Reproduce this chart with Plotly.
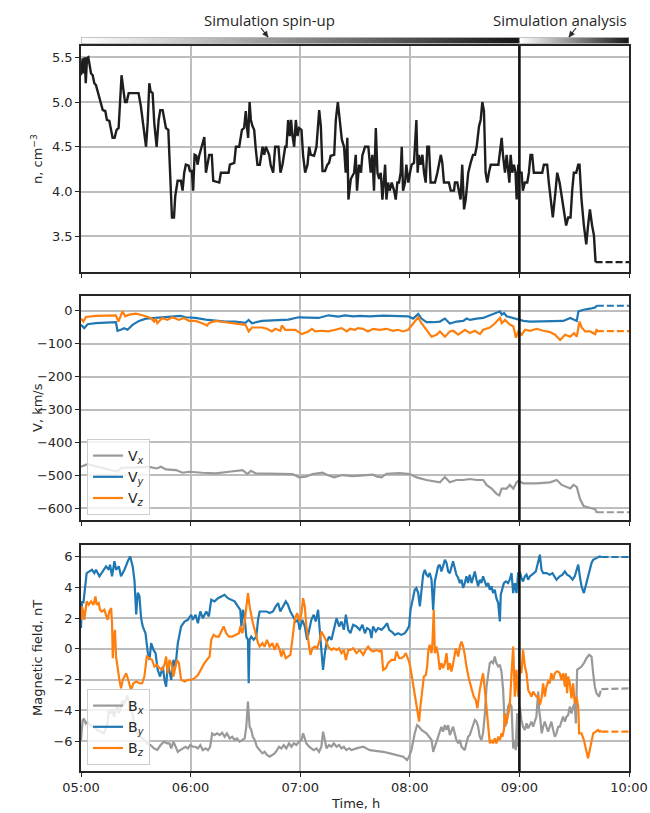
import numpy as np
import plotly.graph_objects as go

# ---------------------------------------------------------------
# Time is expressed in minutes after 05:00
# ---------------------------------------------------------------
tick_minutes = [0, 60, 120, 180, 240, 300]
tick_labels = ["05:00", "06:00", "07:00", "08:00", "09:00", "10:00"]
analysis_start = 240      # 09:00, start of the analysed interval
end_minute = 300          # 10:00

# ---------------- solar wind density, cm^-3 ----------------
n_t = [0.0, 0.9, 1.5, 2.0, 2.6, 3.3, 4.0, 4.6, 5.5, 6.4, 7.3, 8.2, 9.1, 10.4, 11.9, 13.3, 14.2, 15.5,
       16.4, 17.3, 18.4, 19.5, 20.6, 21.3, 22.2, 23.2, 24.1, 25.0, 26.1, 27.3, 31.5, 32.8, 34.1, 35.6,
       36.5, 37.4, 38.1, 39.2, 40.1, 41.4, 42.5, 43.4, 44.7, 45.6, 46.5, 47.8, 48.7, 49.8, 50.9, 51.6,
       52.9, 54.7, 55.6, 56.5, 57.4, 58.9, 59.6, 60.7, 61.4, 62.2, 63.1, 63.8, 64.7, 66.2, 67.5, 68.4,
       69.3, 70.2, 71.6, 72.4, 75.7, 76.6, 80.8, 81.5, 83.9, 84.8, 86.6, 88.1, 89.3, 90.2, 90.8, 91.5,
       92.3, 93.0, 93.9, 94.8, 95.7, 96.6, 97.9, 99.4, 100.3, 101.2, 103.0, 103.9, 105.2, 106.3, 108.1,
       109.2, 110.3, 111.8, 112.5, 113.4, 114.3, 115.0, 115.8, 116.7, 117.6, 118.5, 119.4, 120.7, 121.6,
       122.7, 124.0, 124.9, 125.8, 127.6, 128.9, 130.4, 131.3, 132.2, 133.6, 134.9, 135.8, 136.7, 138.6,
       139.5, 140.6, 141.7, 142.8, 144.0, 144.9, 145.8, 146.4, 147.7, 149.5, 150.4, 151.1, 152.2, 153.3,
       154.0, 155.5, 157.3, 158.6, 159.5, 160.4, 161.4, 162.3, 163.2, 164.1, 165.0, 165.9, 166.5, 167.2,
       168.1, 169.0, 170.1, 171.4, 172.3, 173.2, 174.1, 175.0, 175.6, 176.3, 177.4, 178.1, 179.2, 180.1,
       181.0, 182.3, 183.6, 184.3, 185.0, 185.9, 186.9, 187.8, 188.7, 189.6, 190.5, 191.4, 193.8, 195.1,
       197.0, 197.8, 198.7, 201.4, 202.4, 204.2, 204.7, 206.0, 206.9, 207.8, 208.7, 209.7, 210.6, 212.0,
       213.3, 214.6, 215.7, 216.6, 217.9, 218.8, 219.7, 220.6, 221.5, 222.4, 223.3, 224.3, 228.5, 229.2,
       230.3, 231.0, 232.1, 233.0, 233.8, 234.5, 235.2, 236.1, 237.0, 237.9, 238.5, 239.4, 240.1, 241.2,
       241.9, 243.0, 244.3, 245.2, 246.1, 247.0, 247.9, 252.5, 253.4, 255.2, 256.1, 257.0, 258.3, 259.8,
       260.7, 262.0, 263.4, 265.6, 266.7, 268.0, 268.9, 269.8, 271.1, 272.2, 272.9, 274.0, 275.3, 276.6,
       277.6, 278.6, 279.8, 280.8, 281.7]
n_val = [5.30, 5.49, 5.32, 5.50, 5.21, 5.49, 5.50, 5.41, 5.32, 5.30, 5.21, 5.19, 5.12, 5.00, 4.91, 4.90, 4.80, 4.79,
         4.69, 4.60, 4.60, 4.69, 4.71, 5.00, 5.30, 5.14, 5.00, 5.00, 5.10, 5.10, 5.10, 4.95, 4.73, 4.50,
         4.77, 5.21, 5.12, 5.10, 4.77, 4.50, 4.80, 4.91, 4.91, 4.82, 4.71, 4.69, 4.21, 3.71, 3.71, 3.95,
         4.12, 4.12, 4.01, 4.21, 4.30, 4.29, 4.23, 4.23, 4.01, 4.41, 4.40, 4.30, 4.40, 4.50, 4.61, 4.21,
         4.30, 4.41, 4.41, 4.12, 4.10, 4.21, 4.21, 4.30, 4.32, 4.50, 4.50, 4.69, 4.71, 4.90, 4.73, 4.60,
         5.00, 4.80, 4.73, 4.69, 4.47, 4.30, 4.30, 4.50, 4.41, 4.50, 4.41, 4.29, 4.21, 4.50, 4.50,
         4.21, 4.30, 4.50, 4.50, 4.80, 4.62, 4.80, 4.62, 4.50, 4.80, 4.62, 4.71, 4.69, 4.40,
         4.21, 4.30, 4.50, 4.41, 4.40, 4.50, 4.91, 4.73, 4.23, 4.23, 4.30, 4.32, 4.40, 4.41,
         4.80, 5.00, 4.77, 4.58, 4.50, 4.21, 4.60, 3.91, 4.14, 4.21, 4.41, 4.01, 4.30, 4.21,
         4.40, 4.50, 4.50, 4.21, 4.41, 4.01, 4.71, 4.21, 4.14, 4.21, 3.91, 4.14, 4.30, 3.91,
         4.10, 4.01, 4.10, 4.01, 3.91, 4.10, 4.10, 4.21, 4.50, 4.01, 4.10, 4.30, 4.10, 4.21,
         4.30, 4.32, 4.80, 4.21, 4.41, 4.30, 4.41, 4.21, 4.10, 4.50, 4.50, 4.10, 4.10, 4.21,
         4.41, 4.32, 4.10, 4.10, 4.01, 4.01, 4.10, 4.10, 4.01, 3.91, 4.30, 3.80, 3.91, 4.21,
         4.32, 4.41, 4.41, 4.50, 4.73, 4.80, 5.00, 4.90, 4.21, 4.10, 4.21, 4.30, 4.30, 4.41,
         4.60, 4.41, 4.21, 4.41, 4.21, 4.10, 4.41, 4.21, 4.30, 4.21, 3.91, 4.30, 4.21, 4.21,
         4.01, 4.10, 4.10, 4.21, 4.41, 4.41, 4.21, 4.21, 4.30, 4.30, 4.10, 3.91, 3.71, 4.01,
         4.21, 4.10, 3.91, 3.62, 3.71, 3.71, 4.01, 4.21, 4.21, 4.30, 4.30, 3.91, 3.62, 3.41,
         3.62, 3.80, 3.62, 3.51, 3.21]
n_tail_t = [281.7, 300.0]
n_tail_val = [3.21, 3.21]

# ---------------- solar wind velocity, km/s ----------------
vx_t = [0.0, 3.6, 20.1, 21.9, 30.1, 37.4, 41.4, 43.8, 46.5, 52.0, 55.6, 59.3, 66.5, 73.8, 81.1, 88.4,
        91.2, 93.0, 95.7, 103.0, 110.3, 115.8, 119.4, 123.1, 126.7, 132.2, 134.9, 138.6, 143.1, 148.6,
        154.4, 159.9, 161.7, 164.5, 167.2, 174.5, 180.0, 183.7, 189.1, 196.5, 199.2, 201.9, 205.6, 209.3,
        212.9, 216.6, 220.2, 222.0, 224.8, 227.5, 229.0, 230.3, 233.0, 234.8, 236.7, 238.5, 239.4, 242.2,
        249.5, 256.8, 260.4, 263.2, 267.8, 269.6, 271.4, 273.2, 275.1, 278.7, 281.5, 282.4]
vx_val = [-474, -466, -489, -477, -476, -474, -479, -474, -482, -484, -492, -489, -492, -494, -489, -484,
          -496, -486, -494, -494, -496, -496, -506, -504, -496, -492, -499, -506, -499, -502,
          -500, -498, -503, -506, -495, -493, -496, -506, -514, -521, -505, -521, -514, -514,
          -511, -514, -514, -529, -540, -556, -561, -540, -540, -529, -540, -521, -517, -524,
          -524, -521, -514, -529, -540, -529, -535, -572, -593, -598, -603, -614]
vx_tail_t = [282.4, 300.0]
vx_tail_val = [-612, -612]

vy_t = [0.0, 1.8, 3.6, 8.2, 19.1, 20.0, 21.8, 23.6, 25.5, 28.2, 31.8, 35.5, 40.9, 46.4, 50.0, 54.5,
        57.3, 62.7, 68.2, 73.6, 79.1, 84.5, 90.0, 91.8, 93.6, 99.1, 106.4, 113.6, 119.1, 124.5, 130.0,
        135.5, 140.9, 144.5, 149.1, 152.6, 158.1, 165.4, 172.7, 179.1, 181.8, 184.6, 186.4, 189.1,
        192.8, 196.5, 199.2, 201.9, 205.6, 209.3, 211.1, 212.9, 216.6, 220.2, 223.9, 227.5, 229.4,
        230.3, 231.6, 233.0, 234.8, 237.6, 239.4, 242.2, 245.8, 249.5, 256.8, 264.1, 267.8, 269.9,
        271.4, 272.3, 275.1, 278.7, 281.5, 282.4]
vy_val = [-43, -53, -41, -38, -35, -61, -58, -53, -58, -43, -31, -24, -22, -20, -18, -16,
          -20, -22, -27, -31, -33, -33, -37, -28, -38, -31, -29, -27, -20, -20, -22,
          -14, -18, -14, -17, -16, -17, -15, -17, -17, -24, -10, -24, -35,
          -35, -33, -24, -39, -33, -31, -24, -28, -24, -22, -14, -7, -2,
          -12, -7, -17, -20, -24, -28, -31, -33, -33, -31, -31, -22, -28,
          -31, -2, 3, 6, 10, 16]
vy_tail_t = [282.4, 300.0]
vy_tail_val = [15, 15]

vz_t = [0.0, 1.3, 2.7, 8.2, 19.1, 20.5, 22.7, 24.2, 26.4, 30.0, 33.6, 36.4, 38.2, 40.0, 40.9, 41.8,
        44.5, 47.3, 50.0, 53.6, 56.4, 59.1, 62.7, 66.4, 69.1, 70.0, 73.6, 79.1, 84.5, 88.2, 90.0, 91.8,
        93.6, 99.1, 101.8, 104.5, 106.4, 109.1, 110.0, 111.8, 117.3, 120.9, 124.5, 126.4, 128.2, 131.8,
        135.5, 139.1, 142.7, 145.5, 147.3, 150.0, 151.7, 154.4, 157.1, 159.9, 163.5, 167.2, 170.9,
        173.6, 176.3, 179.1, 180.9, 184.6, 186.4, 189.1, 191.9, 194.6, 196.5, 199.2, 201.9, 203.8,
        206.5, 210.2, 212.9, 215.6, 218.4, 220.2, 223.9, 226.6, 229.4, 230.3, 232.1, 234.5, 236.7,
        238.1, 239.4, 241.2, 243.1, 245.8, 249.5, 253.1, 256.8, 259.5, 262.3, 265.0, 267.8, 269.9,
        271.4, 272.9, 274.1, 276.0, 278.7, 281.5, 282.4]
vz_val = [-24, -33, -19, -16, -14, -33, -2, -17, -12, -9, -14, -20, -22, -33, -24, -38,
          -22, -28, -20, -28, -22, -31, -31, -38, -45, -38, -31, -35, -38, -41, -43, -63,
          -51, -51, -55, -63, -55, -61, -45, -58, -58, -71, -63, -55, -63, -61,
          -63, -58, -53, -63, -55, -58, -53, -55, -63, -55, -58, -55, -61,
          -58, -63, -58, -45, -20, -38, -58, -79, -73, -63, -79, -63, -61,
          -73, -58, -68, -61, -71, -58, -51, -38, -22, -38, -28, -41, -48,
          -82, -63, -73, -58, -61, -55, -61, -65, -73, -89, -73, -79, -68,
          -79, -33, -51, -63, -63, -71, -55]
vz_tail_t = [282.4, 300.0]
vz_tail_val = [-62, -62]

# ---------------- interplanetary magnetic field, nT ----------------
bx_t = [0.0, 0.9, 1.6, 2.6, 3.5, 5.3, 7.1, 8.9, 10.8, 12.6, 14.4, 15.3, 16.2, 17.1, 18.1, 19.0, 19.9,
        20.8, 21.7, 22.6, 23.5, 24.4, 25.3, 26.3, 27.2, 28.1, 29.0, 29.9, 30.8, 32.6, 34.5, 36.3, 38.1,
        39.9, 41.8, 43.6, 45.4, 47.2, 48.4, 49.4, 50.6, 51.7, 53.0, 54.3, 55.8, 57.2, 58.5, 59.8, 61.2,
        62.7, 64.0, 65.3, 66.7, 68.2, 69.5, 70.7, 71.8, 73.1, 74.4, 75.9, 77.3, 78.6, 79.9, 81.4, 82.8,
        84.1, 85.4, 86.8, 88.3, 89.6, 90.5, 91.4, 92.3, 93.2, 94.1, 95.1, 96.3, 97.8, 99.3, 100.5,
        101.8, 103.3, 104.8, 106.0, 107.3, 108.4, 109.7, 111.0, 112.4, 113.9, 115.2, 116.5, 117.9,
        119.4, 120.7, 121.6, 122.5, 123.4, 124.9, 126.1, 127.4, 128.9, 130.3, 131.6, 132.5, 133.5,
        134.4, 135.8, 137.1, 138.4, 139.9, 141.3, 142.6, 143.9, 145.3, 146.8, 148.1, 150.8, 154.5,
        158.1, 161.8, 165.4, 169.1, 172.7, 176.4, 178.5, 179.6, 180.9, 181.8, 182.7, 184.0, 185.1,
        186.4, 187.7, 189.1, 190.6, 191.9, 192.8, 193.7, 194.6, 195.5, 196.4, 197.3, 198.2, 199.2,
        200.1, 201.0, 201.9, 202.8, 203.7, 204.6, 205.5, 206.5, 207.4, 208.3, 209.2, 210.1, 211.0,
        211.9, 212.8, 213.8, 214.7, 215.6, 216.5, 217.4, 218.3, 219.2, 220.1, 221.1, 222.0, 222.9,
        223.8, 224.7, 225.6, 226.5, 227.4, 228.4, 229.3, 230.2, 231.1, 232.0, 232.9, 233.8, 234.7,
        235.7, 236.6, 237.5, 238.0, 238.8, 239.3, 240.2, 241.1, 242.0, 243.0, 243.9, 244.8, 245.7,
        246.6, 247.5, 248.4, 249.3, 250.3, 250.8, 251.5, 252.2, 253.0, 253.9, 254.8, 255.7, 256.6,
        257.5, 258.5, 259.4, 260.3, 261.2, 262.1, 263.0, 263.9, 264.9, 265.8, 266.7, 267.6, 268.5,
        269.4, 270.3, 270.9, 271.6, 272.7, 274.0, 275.3, 276.7, 278.2, 279.5, 280.4, 281.3, 282.2,
        283.6, 284.4, 284.9]
bx_val = [-5.94, -4.65, -4.54, -4.86, -4.75, -4.97, -5.08, -5.29, -5.40, -5.50, -4.86, -4.00, -4.20, -3.89, -4.43, -4.00, -3.68,
          -4.20, -3.89, -3.35, -3.68, -3.35, -3.03, -3.46, -4.00, -4.20, -4.86, -5.29, -5.50, -5.72, -5.94, -6.15, -6.26,
          -6.47, -6.58, -6.26, -6.04, -6.15, -6.15, -6.48, -6.04, -6.37, -6.70, -6.59, -6.48, -6.37, -6.48, -6.26, -6.37,
          -6.37, -6.48, -6.26, -6.59, -6.48, -6.59, -6.37, -5.50, -5.61, -5.50, -5.61, -5.46, -5.72, -5.50, -5.83, -5.72,
          -5.93, -5.83, -6.04, -5.93, -5.83, -5.07, -3.43, -5.07, -5.28, -5.72, -5.93, -6.37, -6.59, -6.80, -6.70,
          -6.91, -7.02, -6.91, -6.80, -6.59, -6.37, -6.48, -6.26, -6.48, -6.15, -6.37, -6.15, -6.26,
          -6.04, -5.93, -5.50, -5.83, -6.15, -6.37, -6.48, -6.59, -6.48, -6.70, -6.37, -5.39, -5.93,
          -6.48, -6.26, -6.37, -6.15, -6.37, -6.26, -6.48, -6.37, -6.59, -6.48, -6.59, -6.48, -6.37,
          -6.59, -6.63, -6.70, -6.80, -6.91, -7.02, -7.24, -7.02, -6.59, -5.93, -5.50, -4.96, -5.07,
          -5.28, -5.39, -5.50, -5.72, -5.93, -6.70, -6.37, -5.93, -5.72, -5.28, -5.07, -5.39, -4.96,
          -5.28, -4.96, -5.61, -5.28, -5.07, -5.50, -5.93, -6.15, -5.93, -6.37, -6.48, -6.59, -6.15,
          -5.72, -5.61, -5.28, -4.96, -4.63, -4.74, -5.07, -5.72, -5.93, -5.50, -4.20, -2.46, -1.59,
          -0.93, -0.83, -0.93, -0.50, -0.93, -1.15, -1.04, -1.48, -2.67, -5.07, -4.85, -3.76, -3.54,
          -3.76, -6.48, -5.93, -6.59, -4.20, -6.37, -3.76, -4.63, -5.07, -5.28, -4.85, -5.17, -4.96,
          -4.74, -5.07, -4.74, -4.41, -2.78, -3.98, -4.63, -5.50, -5.07, -4.74, -5.07, -5.39, -5.07,
          -4.74, -5.28, -5.72, -5.50, -5.07, -5.07, -4.74, -4.41, -4.74, -4.41, -4.30, -3.76, -4.20,
          -3.76, -3.54, -4.85, -1.37, -1.26, -1.15, -0.93, -0.61, -0.39, -0.50, -1.59, -2.46, -2.89,
          -3.11, -2.78, -2.78]
bx_tail_t = [284.9, 300.0]
bx_tail_val = [-2.62, -2.57]

by_t = [0.0, 0.5, 1.3, 2.2, 3.1, 4.6, 6.0, 7.3, 8.2, 10.1, 11.9, 13.7, 15.2, 15.9, 17.0, 18.3, 19.2,
        20.7, 21.9, 23.8, 25.6, 26.9, 28.3, 29.3, 30.2, 31.1, 32.0, 32.9, 33.8, 35.3, 36.6, 37.5, 38.4,
        39.7, 40.8, 42.0, 43.3, 44.8, 45.7, 46.6, 47.5, 49.4, 50.6, 51.7, 53.0, 54.8, 56.7, 58.5, 60.3,
        61.2, 62.7, 64.0, 65.3, 66.7, 68.6, 70.0, 71.3, 73.1, 75.0, 76.8, 78.6, 80.4, 82.3, 84.1, 85.9,
        87.2, 87.8, 88.7, 89.6, 90.5, 91.4, 91.8, 92.3, 93.2, 94.5, 96.0, 96.9, 97.8, 99.6, 101.5,
        103.3, 105.1, 106.6, 107.9, 109.1, 110.6, 112.1, 113.3, 114.6, 116.1, 117.6, 118.8, 119.7,
        121.2, 122.5, 123.8, 124.9, 126.1, 127.4, 128.5, 129.8, 130.7, 131.6, 132.5, 133.5, 134.4,
        135.8, 137.1, 138.4, 139.9, 141.3, 142.6, 143.9, 145.0, 146.3, 147.5, 149.0, 150.8, 152.6,
        154.1, 155.4, 156.6, 158.1, 159.0, 159.9, 161.4, 162.7, 164.5, 166.3, 167.6, 168.7, 170.0,
        171.8, 173.6, 175.4, 177.3, 178.5, 179.6, 180.4, 181.5, 182.7, 183.6, 184.6, 185.5, 186.4,
        187.3, 188.2, 189.1, 190.0, 190.9, 191.9, 192.8, 193.7, 194.6, 195.5, 196.4, 197.3, 198.2,
        199.2, 200.1, 201.0, 201.9, 202.8, 203.7, 204.6, 205.5, 206.5, 207.4, 208.3, 209.2, 210.1,
        211.0, 211.9, 212.8, 213.8, 214.7, 215.6, 216.5, 217.4, 218.3, 219.2, 220.1, 221.1, 222.0,
        222.9, 223.8, 224.7, 225.6, 226.5, 227.4, 228.4, 229.3, 229.8, 230.7, 231.5, 232.6, 233.8,
        234.7, 235.7, 236.6, 237.5, 238.4, 239.3, 240.2, 241.1, 242.0, 243.0, 243.9, 244.8, 245.7,
        246.6, 247.9, 249.0, 250.3, 251.2, 252.1, 253.0, 254.8, 256.6, 258.1, 259.4, 260.3, 262.1,
        263.6, 264.9, 266.1, 267.6, 269.1, 270.3, 271.2, 272.2, 273.1, 274.0, 275.3, 276.7, 278.2,
        279.5, 280.4, 282.2, 284.0, 284.9]
by_val = [1.35, 3.09, 2.98, 3.85, 4.93, 5.04, 5.15, 4.93, 5.15, 4.72, 5.04, 5.37, 5.15, 5.48, 4.72, 5.70, 5.15,
          5.37, 4.72, 5.15, 5.70, 6.02, 5.37, 4.41, 2.24, 3.65, 3.43, 2.00, 1.46, 1.02, -0.28, -0.72, 0.37,
          -0.07, -0.28, -1.37, -1.80, -1.15, -2.02, -2.46, -0.93, -2.02, -0.72, -1.15, 0.37, 1.46, 1.78, 1.89, 2.22,
          1.89, 2.22, 1.67, 2.43, 2.00, 2.43, 2.11, 3.20, 3.09, 3.30, 3.41, 3.52, 3.30, 3.20, 3.09, 2.76,
          2.54, 1.46, 2.54, 2.00, 0.80, 0.59, -2.24, 0.59, 0.80, 0.59, 0.80, 1.89, 2.43, 2.43, 2.43,
          2.33, 2.43, 2.76, 2.98, 2.43, 2.76, 3.09, 2.87, 2.43, 2.11, 1.78, 1.89, 1.24,
          1.89, 1.46, 0.59, 1.35, 1.89, 2.22, 1.78, 2.54, 1.24, 0.15, -1.37, -0.28, 0.37,
          0.80, 0.59, 1.24, 2.00, 1.46, 1.78, 1.24, 2.22, 1.24, 1.02, 1.57, 1.46, 1.24,
          1.57, 1.02, 1.35, 1.24, 0.70, 1.46, 1.13, 1.35, 1.24, 1.46, 1.67, 1.24, 1.13,
          0.91, 1.02, 0.91, 1.02, 1.24, 1.46, 2.54, 3.20, 3.85, 3.96, 3.63, 2.76, 3.85,
          4.83, 5.15, 4.83, 4.72, 4.93, 4.50, 2.54, 4.39, 4.93, 5.37, 5.48, 5.04, 5.37,
          5.80, 5.59, 5.04, 4.93, 5.37, 5.70, 5.26, 4.83, 4.61, 4.28, 4.50, 3.96, 4.28,
          4.72, 4.28, 4.83, 4.28, 4.61, 5.04, 4.50, 4.07, 4.50, 4.28, 4.72, 4.39, 4.07,
          4.28, 3.85, 4.07, 3.63, 3.85, 3.30, 2.98, 1.78, 3.52, 3.85, 4.28, 4.39, 4.28,
          4.50, 4.93, 3.63, 4.28, 3.63, 4.93, 5.04, 4.61, 4.39, 4.72, 4.83, 4.50, 4.72,
          4.83, 4.93, 5.04, 5.70, 6.13, 5.15, 4.93, 4.93, 4.83, 4.93, 4.72, 4.50, 4.72,
          4.83, 5.04, 4.83, 4.72, 4.50, 4.72, 5.15, 5.48, 4.72, 4.07, 3.63, 4.28, 4.93,
          5.59, 5.80, 5.91, 6.02, 5.98]
by_tail_t = [284.9, 300.0]
by_tail_val = [5.98, 5.98]

bz_t = [0.0, 0.5, 1.3, 1.8, 2.4, 3.1, 4.2, 5.5, 6.8, 7.9, 8.6, 9.7, 10.4, 11.5, 12.8, 13.7, 14.6, 15.5,
        16.5, 17.0, 17.4, 17.9, 18.6, 19.2, 20.1, 21.0, 21.9, 22.9, 23.8, 24.7, 25.6, 26.5, 27.4, 28.7,
        30.2, 32.0, 33.5, 34.7, 36.0, 37.5, 38.9, 40.2, 41.5, 43.0, 44.4, 45.7, 46.6, 47.5, 48.4, 49.4,
        50.6, 51.7, 52.5, 53.6, 54.8, 56.7, 58.5, 60.3, 62.2, 64.0, 65.8, 67.6, 68.9, 70.4, 71.3, 72.6,
        74.0, 75.5, 76.8, 78.1, 79.5, 81.0, 82.8, 84.6, 86.5, 87.2, 88.3, 89.6, 90.5, 91.4, 92.3, 93.2,
        94.1, 95.1, 96.0, 96.9, 97.8, 99.3, 100.5, 101.8, 103.3, 104.8, 106.0, 107.3, 108.8, 109.7,
        110.6, 112.1, 113.3, 114.6, 115.7, 117.0, 118.3, 119.7, 120.7, 121.6, 122.5, 123.4, 124.9,
        125.6, 126.7, 128.0, 129.3, 130.7, 131.6, 132.5, 134.0, 135.3, 137.1, 138.4, 139.9, 141.3,
        142.6, 143.9, 145.0, 146.3, 147.5, 149.0, 150.8, 152.6, 154.5, 155.9, 157.2, 158.5, 159.9,
        161.8, 163.6, 164.5, 165.4, 166.9, 168.1, 170.0, 171.8, 172.7, 174.2, 175.4, 176.7, 177.8,
        178.5, 179.6, 180.4, 181.5, 182.7, 184.0, 185.1, 185.8, 186.9, 187.7, 188.8, 189.5, 190.2,
        190.9, 191.9, 192.4, 193.1, 193.7, 194.6, 195.5, 196.4, 197.3, 198.2, 199.2, 200.1, 201.0,
        201.9, 202.8, 204.1, 205.2, 206.5, 207.4, 208.3, 209.2, 210.1, 211.0, 212.5, 213.8, 215.0,
        216.1, 217.0, 218.3, 219.2, 220.1, 221.1, 222.0, 222.9, 223.8, 224.7, 225.6, 226.5, 227.4,
        228.4, 229.3, 230.2, 230.7, 231.5, 232.0, 232.9, 233.8, 234.7, 235.7, 236.6, 237.5, 238.4,
        239.3, 240.2, 241.1, 242.0, 243.0, 243.9, 244.8, 245.7, 246.6, 247.5, 248.4, 249.3, 250.3,
        251.2, 252.1, 253.0, 253.9, 254.8, 255.7, 256.6, 257.5, 258.5, 259.4, 260.3, 261.2, 262.1,
        263.0, 263.9, 264.9, 265.4, 266.1, 266.7, 267.6, 268.5, 269.4, 270.3, 271.2, 272.2, 272.7,
        274.0, 275.3, 276.7, 277.6, 278.5, 279.5, 280.4, 281.8, 283.1, 284.0, 284.9]
bz_val = [1.89, 2.76, 2.43, 1.89, 2.43, 3.09, 2.87, 3.09, 2.87, 3.41, 2.87, 2.98, 2.54, 2.43, 2.54, 2.22, 1.89, 2.43,
          2.65, 1.67, -0.61, 0.59, 1.24, -0.50, -1.48, -2.02, -2.57, -2.02, -1.80, -1.59, -1.91, -2.35, -2.67, -2.24,
          -2.13, -2.24, -2.24, -1.80, -0.50, -0.61, -0.72, -1.15, -1.04, -1.26, -1.37, -1.04, -0.50, -1.59, -0.72, -0.93,
          -1.80, -1.15, -0.72, -0.93, -2.02, -2.13, -2.02, -2.02, -1.91, -1.70, -1.26, -0.93, -0.72, -0.50, 0.59, 0.91,
          0.80, 0.80, 1.13, 1.46, 1.02, 0.80, 0.80, 0.91, 1.02, 1.46, 1.02, 1.78, 2.76, 3.63, 2.76, 2.11,
          1.67, 1.24, 0.80, 0.37, 0.15, 0.37, 0.15, 0.59, 0.15, 0.37, -0.07, 0.37, -0.07, -0.50,
          -0.07, -0.61, -0.50, -0.39, 0.59, 1.89, 2.33, 1.78, 2.33, 3.30, 2.76, 1.46, 0.15,
          -0.39, 0.04, 0.15, 0.04, 0.59, 1.13, 0.91, 0.59, 0.15, -0.07, 0.04, -0.07, 0.04,
          -0.28, -0.07, -0.72, -0.07, -0.07, 0.04, -0.28, -0.07, -0.39, -0.07, 0.15, -0.07, -0.17,
          -0.07, -0.17, -0.07, -1.37, -1.26, -0.93, -0.72, -0.72, -0.17, -0.61, -0.61, -0.50, -0.28,
          -0.50, -0.83, -1.26, -2.02, -2.89, -3.98, -4.74, -3.76, -2.46, -1.80, -1.70, -1.15, -0.07,
          0.26, -0.28, 0.37, 2.54, -0.28, 0.15, -0.39, -1.37, -0.93, -1.26, -0.93, -0.28, -1.37,
          -0.93, -1.48, -0.72, 0.04, -0.50, 0.15, 0.48, 0.15, -0.39, -1.15, -2.02, -2.67, -3.11,
          -3.33, -3.87, -2.67, -2.02, -1.59, -2.67, -3.98, -5.28, -6.15, -5.93, -6.15, -5.83, -6.15,
          -5.72, -5.93, -5.50, -5.72, -5.28, -4.20, -4.85, -4.20, -3.76, -1.59, 0.15, -3.11, -1.37,
          -3.11, -1.15, -1.59, -0.07, -1.15, -1.59, -2.67, -2.89, -3.11, -2.78, -3.00, -3.11, -3.11,
          -3.65, -3.22, -2.24, -3.11, -2.46, -2.13, -2.24, -1.59, -2.02, -1.59, -1.48, -1.48, -1.59,
          -2.02, -1.59, -2.46, -1.59, -2.89, -1.80, -2.24, -3.22, -2.24, -3.54, -3.11, -3.76, -5.50,
          -5.50, -5.93, -6.59, -7.13, -6.59, -5.93, -5.50, -5.39, -5.28, -5.39, -5.33]
bz_tail_t = [284.9, 300.0]
bz_tail_val = [-5.39, -5.39]

# ---------------- styling ----------------
INK = "#262626"
GRID = "#bdbdbd"
C_X = "#999999"
C_Y = "#1f77b4"
C_Z = "#ff7f0e"
LW = 2.2
TAIL_DASH = "7px,3px"
FONT = "DejaVu Sans"

fig = go.Figure()


def add_series(t, v, tail_t, tail_v, color, name, xa, ya, legend=None, width=LW):
    fig.add_trace(go.Scatter(
        x=t, y=v, mode="lines", name=name, xaxis=xa, yaxis=ya,
        line=dict(color=color, width=width),
        showlegend=legend is not None, legend=legend or "legend"))
    fig.add_trace(go.Scatter(
        x=tail_t, y=tail_v, mode="lines", xaxis=xa, yaxis=ya, showlegend=False,
        line=dict(color=color, width=width, dash=TAIL_DASH), hoverinfo="skip"))


# top panel: density
add_series(n_t, n_val, n_tail_t, n_tail_val, "#1e1e1e", "n", "x", "y", width=2.4)
# middle panel: velocity components
add_series(vx_t, vx_val, vx_tail_t, vx_tail_val, C_X, "V<sub><i>x</i></sub>", "x2", "y2", "legend")
add_series(vy_t, vy_val, vy_tail_t, vy_tail_val, C_Y, "V<sub><i>y</i></sub>", "x2", "y2", "legend")
add_series(vz_t, vz_val, vz_tail_t, vz_tail_val, C_Z, "V<sub><i>z</i></sub>", "x2", "y2", "legend")
# bottom panel: magnetic field components
add_series(bx_t, bx_val, bx_tail_t, bx_tail_val, C_X, "B<sub><i>x</i></sub>", "x3", "y3", "legend2")
add_series(by_t, by_val, by_tail_t, by_tail_val, C_Y, "B<sub><i>y</i></sub>", "x3", "y3", "legend2")
add_series(bz_t, bz_val, bz_tail_t, bz_tail_val, C_Z, "B<sub><i>z</i></sub>", "x3", "y3", "legend2")

# gradient strip showing the spin-up and analysis intervals
strip_x = np.arange(0, end_minute + 0.5, 0.5)
strip_z = np.where(strip_x < analysis_start,
                   strip_x / analysis_start,
                   (strip_x - analysis_start) / (end_minute - analysis_start))
fig.add_trace(go.Heatmap(
    x=strip_x, y=[0, 1], z=[strip_z, strip_z], xaxis="x4", yaxis="y4",
    colorscale=[[0, "#ffffff"], [1, "#151515"]], showscale=False, zsmooth="best",
    hoverinfo="skip"))

# ---------------- axes ----------------
def x_axis(labels, anchor):
    return dict(
        domain=[0, 1], range=[0, end_minute], anchor=anchor,
        tickmode="array", tickvals=tick_minutes, ticktext=tick_labels,
        showticklabels=labels, ticks="outside", ticklen=4, tickwidth=1.3, tickcolor=INK,
        showgrid=True, gridcolor=GRID, gridwidth=1.5,
        showline=True, linecolor=INK, linewidth=1.6, mirror=True,
        zeroline=False, tickfont=dict(family=FONT, size=13, color=INK))


def y_axis(domain, rng, vals, anchor, fmt=None):
    d = dict(
        domain=domain, range=rng, anchor=anchor,
        tickmode="array", tickvals=vals,
        ticks="outside", ticklen=4, tickwidth=1.3, tickcolor=INK,
        showgrid=True, gridcolor=GRID, gridwidth=1.5,
        showline=True, linecolor=INK, linewidth=1.6, mirror=True,
        zeroline=False, tickfont=dict(family=FONT, size=13, color=INK))
    if fmt:
        d["tickformat"] = fmt
    return d


H = 771.0  # plotting height in px (figure height minus bottom margin)
W = 548.0  # plotting width in px


def band(top_px, bottom_px):
    return [(H - bottom_px) / H, (H - top_px) / H]


def px(xp, yp):
    """pixel position -> paper coordinates"""
    return (xp - 81) / W, (H - yp) / H


legend_style = dict(xanchor="left", yanchor="bottom",
                    bgcolor="rgba(255,255,255,0.8)", bordercolor="#cccccc", borderwidth=1,
                    font=dict(family=FONT, size=14, color=INK), tracegroupgap=0)

fig.update_layout(
    width=650, height=813,
    margin=dict(l=81, r=21, t=0, b=42),
    paper_bgcolor="white", plot_bgcolor="white",
    font=dict(family=FONT, size=13, color=INK),
    xaxis=x_axis(False, "y"),
    yaxis=y_axis(band(46, 272), [3.10, 5.627], [3.5, 4.0, 4.5, 5.0, 5.5], "x", ".1f"),
    xaxis2=x_axis(False, "y2"),
    yaxis2=y_axis(band(296, 520), [-635.5, 44.6], [-600, -500, -400, -300, -200, -100, 0], "x2"),
    xaxis3=x_axis(True, "y3"),
    yaxis3=y_axis(band(545, 771), [-7.95, 6.76], [-8, -6, -4, -2, 0, 2, 4, 6], "x3"),
    xaxis4=dict(domain=[0, 1], range=[0, end_minute], anchor="y4", visible=False),
    yaxis4=dict(domain=band(37.5, 43.5), range=[0, 1], anchor="x4", visible=False),
    legend=dict(x=0.011, y=band(0, 515)[0], **legend_style),
    legend2=dict(x=0.011, y=band(0, 765)[0], **legend_style),
)

# thin frame around the gradient strip and the 09:00 divider inside it
fig.add_shape(type="rect", xref="x4", yref="y4", x0=0, x1=end_minute, y0=0, y1=1,
              line=dict(color="#8a8a8a", width=1), layer="above")
fig.add_shape(type="line", xref="x4", yref="y4", x0=analysis_start, x1=analysis_start, y0=0, y1=1,
              line=dict(color="#8a8a8a", width=1), layer="above")

# 09:00 divider in each panel
for ax in ["", "2", "3"]:
    fig.add_shape(type="line", xref="x" + ax, yref="y" + ax + " domain",
                  x0=analysis_start, x1=analysis_start, y0=0, y1=1,
                  line=dict(color="#141414", width=2.6), layer="above")

# axis titles
titles = [("n, cm<sup>−3</sup>", band(46, 272)), ("V, km/s", band(296, 520)),
          ("Magnetic field, nT", band(545, 771))]
for text, dom in titles:
    fig.add_annotation(text=text, xref="paper", yref="paper", x=(37 - 81) / W,
                       y=(dom[0] + dom[1]) / 2, textangle=-90, showarrow=False,
                       xanchor="center", yanchor="middle",
                       font=dict(family=FONT, size=13, color=INK))
fig.add_annotation(text="Time, h", xref="paper", yref="paper", x=0.5, y=(H - 803) / H,
                   showarrow=False, xanchor="center", yanchor="middle",
                   font=dict(family=FONT, size=13, color=INK))

# interval labels
fig.add_annotation(text="Simulation spin-up", xref="paper", yref="paper",
                   x=(269 - 81) / W, y=(H - 20) / H, showarrow=False,
                   xanchor="center", yanchor="middle",
                   font=dict(family="Open Sans", size=15, color=INK))
fig.add_annotation(text="Simulation analysis", xref="paper", yref="paper",
                   x=1.0, y=(H - 20) / H, showarrow=False,
                   xanchor="right", yanchor="middle",
                   font=dict(family="Open Sans", size=15, color=INK))

# small arrows from the labels down to the strip (drawn as shapes)
for (tx, ty), (hx, hy) in [((261, 28), (268, 37)), ((576, 28), (569, 37))]:
    x0, y0 = px(tx, ty)
    x1, y1 = px(hx, hy)
    fig.add_shape(type="line", xref="paper", yref="paper", x0=x0, y0=y0, x1=x1, y1=y1,
                  line=dict(color=INK, width=1.2), layer="above")
    d = np.array([hx - tx, hy - ty], dtype=float)
    d /= np.hypot(*d)
    nrm = np.array([-d[1], d[0]])
    tip = np.array([hx, hy], dtype=float)
    base = tip - 5.5 * d
    p1 = base + 2.6 * nrm
    p2 = base - 2.6 * nrm
    pts = [px(*tip), px(*p1), px(*p2)]
    path = "M {:.5f},{:.5f} L {:.5f},{:.5f} L {:.5f},{:.5f} Z".format(
        pts[0][0], pts[0][1], pts[1][0], pts[1][1], pts[2][0], pts[2][1])
    fig.add_shape(type="path", xref="paper", yref="paper", path=path,
                  fillcolor=INK, line=dict(color=INK, width=0.5), layer="above")

fig.write_html("out.html")
